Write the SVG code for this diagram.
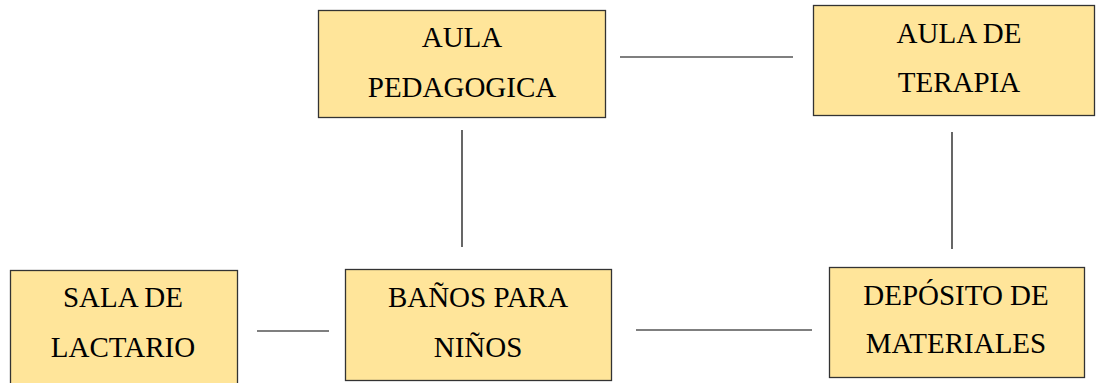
<svg xmlns="http://www.w3.org/2000/svg" width="1098" height="383" viewBox="0 0 1098 383">
<style>
.box{fill:#FFE59A;stroke:#333;stroke-width:1.3}
.t{font-family:'Liberation Serif','Times New Roman',serif;font-size:29px;fill:#000;text-anchor:middle}
.c{stroke:#000;stroke-width:1.2;fill:none}
</style>
<rect width="1098" height="383" fill="#fff"/>
<g id="connectors">
<line class="c" x1="620" y1="57" x2="793" y2="57"/>
<line class="c" x1="462" y1="130" x2="462" y2="247"/>
<line class="c" x1="952" y1="132" x2="952" y2="249"/>
<line class="c" x1="257" y1="331" x2="329" y2="331"/>
<line class="c" x1="636" y1="330" x2="812" y2="330"/>
</g>
<g id="aula-pedagogica">
<rect class="box" x="318.5" y="10.5" width="287" height="107"/>
<text class="t" x="462" y="47">AULA</text>
<text class="t" x="462" y="97">PEDAGOGICA</text>
</g>
<g id="aula-terapia">
<rect class="box" x="813.5" y="5.5" width="281" height="110"/>
<text class="t" x="959" y="43">AULA DE</text>
<text class="t" x="959" y="92">TERAPIA</text>
</g>
<g id="sala-lactario">
<rect class="box" x="10.5" y="270.5" width="227" height="120"/>
<text class="t" x="123" y="307">SALA DE</text>
<text class="t" x="123" y="357">LACTARIO</text>
</g>
<g id="banos">
<rect class="box" x="345.5" y="269.5" width="266" height="111"/>
<text class="t" x="478" y="307">BAÑOS PARA</text>
<text class="t" x="478" y="357">NIÑOS</text>
</g>
<g id="deposito">
<rect class="box" x="829.5" y="267.5" width="255" height="110"/>
<text class="t" x="956" y="305">DEPÓSITO DE</text>
<text class="t" x="956" y="353">MATERIALES</text>
</g>
</svg>
